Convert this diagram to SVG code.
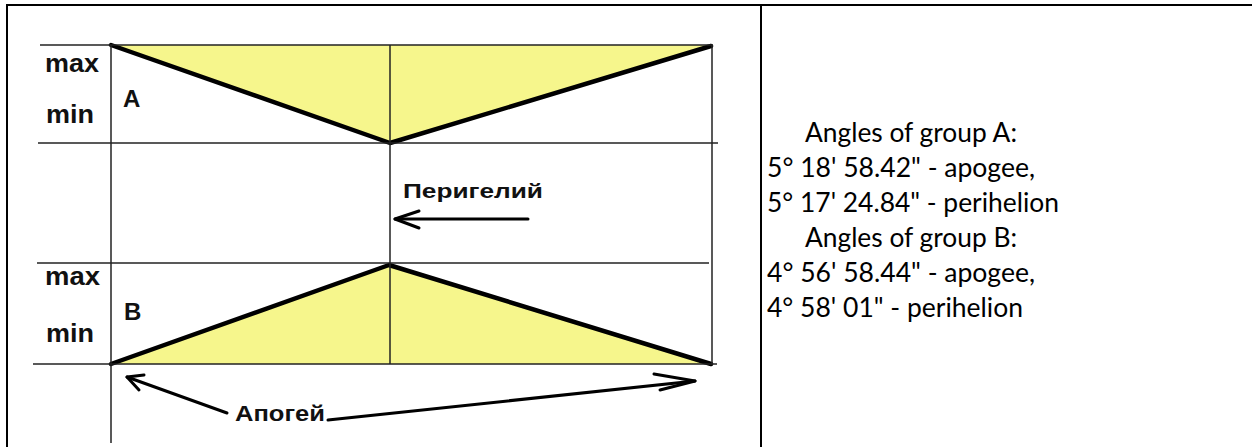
<svg xmlns="http://www.w3.org/2000/svg" width="1252" height="447" viewBox="0 0 1252 447">
  <style>
    .border { stroke: #000; stroke-width: 2; fill: none; }
    .grid { stroke: #222; stroke-width: 1.5; fill: none; }
    .thick { stroke: #000; stroke-width: 4.5; fill: none; stroke-linejoin: round; stroke-linecap: round; }
    .fill { fill: #f6f68c; stroke: none; }
    .arrow { stroke: #000; stroke-width: 3; fill: none; stroke-linecap: round; stroke-linejoin: round; }
    .lbl { font-family: "Liberation Sans", Arial, sans-serif; font-weight: bold; fill: #111; }
    .txt { font-family: Lato, "Liberation Sans", sans-serif; font-size: 27px; fill: #000; }
  </style>
  <rect width="1252" height="447" fill="#fff"/>
  <g id="table">
    <line class="border" x1="6" y1="5" x2="1252" y2="5"/>
    <line class="border" x1="7" y1="5" x2="7" y2="447"/>
    <line class="border" x1="761" y1="5" x2="761" y2="447"/>
  </g>
  <g id="group-a">
    <polygon class="fill" points="111,45 711,45 390,143"/>
    <polyline class="thick" points="111,45 390,143 711,46"/>
    <text class="lbl" x="45" y="72" font-size="25" textLength="54" lengthAdjust="spacingAndGlyphs">max</text>
    <text class="lbl" x="46" y="123" font-size="25" textLength="48" lengthAdjust="spacingAndGlyphs">min</text>
    <text class="lbl" x="123" y="107" font-size="24">A</text>
  </g>
  <g id="group-b">
    <polygon class="fill" points="111,364 389,265 711,364"/>
    <polyline class="thick" points="111,364 389,265 711,364"/>
    <text class="lbl" x="45" y="285" font-size="25" textLength="55" lengthAdjust="spacingAndGlyphs">max</text>
    <text class="lbl" x="46" y="342" font-size="25" textLength="48" lengthAdjust="spacingAndGlyphs">min</text>
    <text class="lbl" x="124" y="320" font-size="24">B</text>
  </g>
  <g id="grid">
    <line class="grid" x1="40" y1="45" x2="713" y2="45"/>
    <line class="grid" x1="38" y1="143" x2="718" y2="143"/>
    <line class="grid" x1="37" y1="263" x2="709" y2="263"/>
    <line class="grid" x1="33" y1="364" x2="717" y2="364"/>
    <line class="grid" x1="111" y1="45" x2="111" y2="443"/>
    <line class="grid" x1="390" y1="45" x2="390" y2="364"/>
    <line class="grid" x1="712" y1="45" x2="712" y2="364"/>
  </g>
  <g id="perigee">
    <text class="lbl" x="403" y="198" font-size="21" textLength="140" lengthAdjust="spacingAndGlyphs">Перигелий</text>
  </g>
  <g id="apogee">
    <text class="lbl" x="235" y="421" font-size="22" textLength="90" lengthAdjust="spacingAndGlyphs">Апогей</text>
  </g>
  <g id="connectors">
    <line class="arrow" x1="528" y1="219" x2="395" y2="219"/>
    <polyline class="arrow" points="419,211 395,219 419,228"/>
    <line class="arrow" x1="227" y1="413" x2="127" y2="377"/>
    <polyline class="arrow" points="139,390 127,377 144,375"/>
    <line class="arrow" x1="328" y1="420" x2="695" y2="381"/>
    <polyline class="arrow" points="654,374 695,381 660,390"/>
  </g>
  <g id="angles">
    <text class="txt" x="805" y="142" textLength="212" lengthAdjust="spacingAndGlyphs">Angles of group A:</text>
    <text class="txt" x="767" y="177" textLength="268" lengthAdjust="spacingAndGlyphs">5° 18' 58.42" - apogee,</text>
    <text class="txt" x="767" y="212" textLength="292" lengthAdjust="spacingAndGlyphs">5° 17' 24.84" - perihelion</text>
    <text class="txt" x="805" y="247" textLength="212" lengthAdjust="spacingAndGlyphs">Angles of group B:</text>
    <text class="txt" x="767" y="282" textLength="268" lengthAdjust="spacingAndGlyphs">4° 56' 58.44" - apogee,</text>
    <text class="txt" x="767" y="317" textLength="256" lengthAdjust="spacingAndGlyphs">4° 58' 01" - perihelion</text>
  </g>
</svg>
